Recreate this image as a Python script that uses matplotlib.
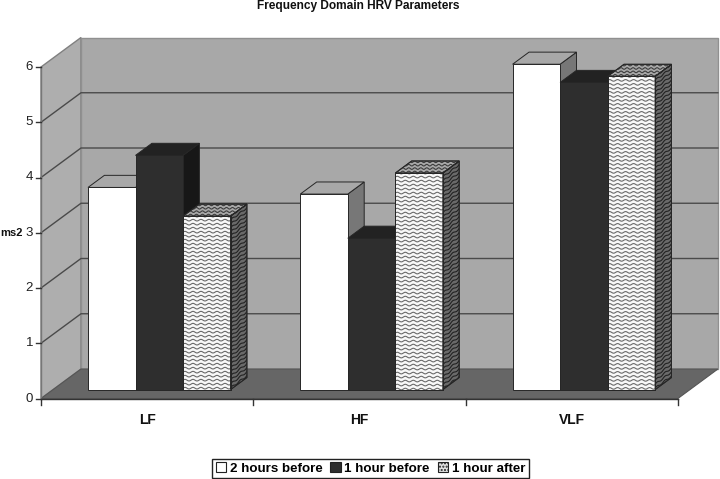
import numpy as np
import matplotlib
matplotlib.use('Agg')
import matplotlib.pyplot as plt
from matplotlib.patches import Polygon, Patch

plt.rcParams['font.family'] = ['Liberation Sans', 'DejaVu Sans']

categories = ['LF', 'HF', 'VLF']
series_names = ['2 hours before', '1 hour before', '1 hour after']
before_2h = [3.66, 3.54, 5.89]
before_1h = [4.24, 2.74, 5.56]
after_1h = [3.14, 3.92, 5.67]
y_ticks = [0, 1, 2, 3, 4, 5, 6]

W, H = 720, 479
# pixel sizes of one category and one y unit
CAT_PX = 212.3
UNIT_PX = 55.25
X0_PX = 41
Y0_PX = 398.5
PX_X = 1 / CAT_PX
PX_Y = 1 / UNIT_PX
# depth of the box, and where the bars sit in it
DX = 40 * PX_X
DY = 29.5 * PX_Y
BAR_D0 = 0.30
BAR_D1 = 0.71
BAR_W = 47.5 * PX_X
GAP = 35 * PX_X


def pr(x, y, d=0.0):
    return (x + d * DX, y + d * DY)


def wave_fill(ax, poly, color, lw, shear=0.0, step=4.0, period=8.0, zorder=3):
    xs = [p[0] for p in poly]
    ys = [p[1] for p in poly]
    clip = Polygon(poly, closed=True, transform=ax.transData)
    x = np.linspace(min(xs), max(xs), max(int((max(xs) - min(xs)) / PX_X), 2) * 2)
    s = (x - min(xs)) / PX_X
    top = max(ys) + 40 * PX_Y
    n = int((top - min(ys)) / (step * PX_Y)) + 40
    for i in range(n):
        y = top - i * step * PX_Y + (0.8 * np.sin(2 * np.pi * s / period) + shear * s) * PX_Y
        line, = ax.plot(x, y, color=color, lw=lw, zorder=zorder, solid_capstyle='butt')
        line.set_clip_path(clip)


def draw_bar(ax, left, value, front, top, side, zorder, pattern=False):
    right = left + BAR_W
    f = [pr(left, 0, BAR_D0), pr(right, 0, BAR_D0), pr(right, value, BAR_D0), pr(left, value, BAR_D0)]
    t = [pr(left, value, BAR_D0), pr(right, value, BAR_D0), pr(right, value, BAR_D1), pr(left, value, BAR_D1)]
    s = [pr(right, 0, BAR_D0), pr(right, 0, BAR_D1), pr(right, value, BAR_D1), pr(right, value, BAR_D0)]
    for poly, col in ((s, side), (t, top), (f, front)):
        ax.add_patch(Polygon(poly, closed=True, fc=col, ec='#262626', lw=0.7, zorder=zorder))
    if pattern:
        wave_fill(ax, f, '#6a6a6a', 0.8, zorder=zorder)
        wave_fill(ax, t, '#3c3c3c', 0.8, step=3.4, period=6.0, zorder=zorder)
        wave_fill(ax, s, '#222222', 0.8, shear=0.75, zorder=zorder)
        for poly in (s, t, f):
            ax.add_patch(Polygon(poly, closed=True, fc='none', ec='#262626', lw=0.7, zorder=zorder))


fig = plt.figure(figsize=(W / 100, H / 100), dpi=100)
ax = fig.add_axes([0, 0, 1, 1])
ax.set_xlim(-X0_PX * PX_X, (W - X0_PX) * PX_X)
ax.set_ylim(-(H - Y0_PX) * PX_Y, Y0_PX * PX_Y)
ax.axis('off')

n_cat = len(categories)
y_max = y_ticks[-1]

# walls and floor
ax.add_patch(Polygon([pr(0, 0), pr(0, 0, 1), pr(0, y_max, 1), pr(0, y_max)], closed=True,
                     fc='#aeaeae', ec='#808080', lw=1, zorder=1))
ax.add_patch(Polygon([pr(0, 0, 1), pr(n_cat, 0, 1), pr(n_cat, y_max, 1), pr(0, y_max, 1)], closed=True,
                     fc='#a8a8a8', ec='#909090', lw=1, zorder=1))
ax.add_patch(Polygon([pr(0, 0), pr(n_cat, 0), pr(n_cat, 0, 1), pr(0, 0, 1)], closed=True,
                     fc='#666666', ec='#555555', lw=0.8, zorder=1))

# grid lines
for v in y_ticks[1:-1]:
    a, b, c = pr(0, v), pr(0, v, 1), pr(n_cat, v, 1)
    ax.plot([a[0], b[0], c[0]], [a[1], b[1], c[1]], color='#4a4a4a', lw=1.0, zorder=2)

# axis lines and ticks
ax.plot([0, 0], [0, y_max], color='#777777', lw=1, zorder=2)
ax.plot([0, n_cat], [0, 0], color='#333333', lw=1, zorder=2)
for v in y_ticks:
    ax.plot([0, -5 * PX_X], [v, v], color='#333333', lw=1, zorder=2)
    ax.text(-8 * PX_X, v, str(v), ha='right', va='center', fontsize=9.5, color='#222222')
for i in range(n_cat + 1):
    ax.plot([i, i], [0, -6 * PX_Y], color='#333333', lw=1, zorder=2)
for i, name in enumerate(categories):
    ax.text(i + 0.5, -22 * PX_Y, name, ha='center', va='center', fontsize=10, fontweight='bold', color='#111111')

ax.text(-41 * PX_X, 3, 'ms2', ha='left', va='center', fontsize=8, fontweight='bold', color='#111111')
ax.text(1.5 - 0.006, Y0_PX * PX_Y - 6 * PX_Y, 'Frequency Domain HRV Parameters', ha='center', va='center',
        fontsize=8.6, fontweight='bold', color='#111111')

# bars
for i in range(n_cat):
    left = i + GAP
    z = 4 + i * 3
    draw_bar(ax, left, before_2h[i], '#ffffff', '#a8a8a8', '#777777', z)
    draw_bar(ax, left + BAR_W, before_1h[i], '#2e2e2e', '#222222', '#171717', z + 1)
    draw_bar(ax, left + 2 * BAR_W, after_1h[i], '#f8f8f8', '#a8a8a8', '#6a6a6a', z + 2, pattern=True)

handles = [Patch(fc='#ffffff', ec='#222222', lw=0.8, label=series_names[0]),
           Patch(fc='#2e2e2e', ec='#222222', lw=0.8, label=series_names[1]),
           Patch(fc='#e0e0e0', ec='#222222', lw=0.8, hatch='.....', label=series_names[2])]
leg = fig.legend(handles=handles, loc='center', bbox_to_anchor=(370.5 / W, 1 - 468.5 / H), ncol=3,
                 frameon=True, fancybox=False, edgecolor='#222222', framealpha=1,
                 prop={'size': 9.6, 'weight': 'bold'}, handlelength=0.8, handleheight=0.8,
                 handletextpad=0.25, columnspacing=0.6, borderpad=0.25, borderaxespad=0)
leg.get_frame().set_linewidth(1)

fig.savefig('out.png', dpi=100)
